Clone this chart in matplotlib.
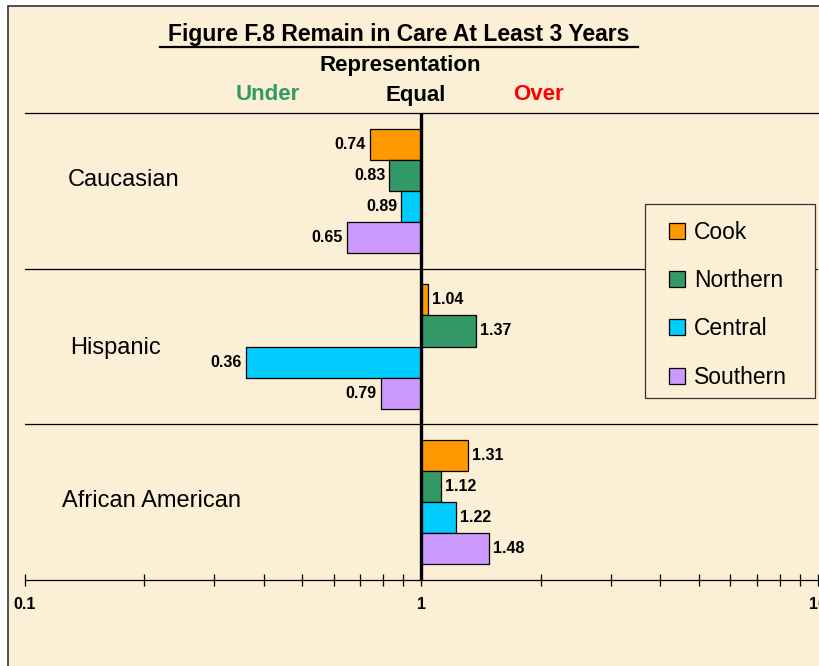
import matplotlib
matplotlib.use("Agg")
import matplotlib.pyplot as plt
from matplotlib import patches
from matplotlib.ticker import LogLocator, FixedFormatter, FixedLocator, NullFormatter

plt.rcParams['font.family'] = ['Liberation Sans', 'DejaVu Sans']

# data
groups = ['Caucasian', 'Hispanic', 'African American']
regions = ['Cook', 'Northern', 'Central', 'Southern']
cook = [0.74, 1.04, 1.31]
northern = [0.83, 1.37, 1.12]
central = [0.89, 0.36, 1.22]
southern = [0.65, 0.79, 1.48]
tick_values = [0.1, 1, 10]
tick_labels = ['0.1', '1', '10']

COLORS = ['#FF9900', '#339966', '#00CCFF', '#CC99FF']
BG = '#FBEFD6'

W, H = 820, 666
fig = plt.figure(figsize=(W / 100, H / 100), dpi=100, facecolor='white')

# chart frame
fig.patches.append(
    patches.Rectangle((8 / W, -0.1), 1.2, 1 - 6 / H + 0.1, transform=fig.transFigure,
                      facecolor=BG, edgecolor='#333333', lw=1.2, zorder=-5)
)

ax = fig.add_axes([25 / W, 1 - 580 / H, (818 - 25) / W, (580 - 113) / H])
ax.set_zorder(2)
ax.set_facecolor('none')
ax.set_xscale('log')
ax.set_xlim(0.1, 10)
ax.set_ylim(3, 0)

series = [cook, northern, central, southern]
bar_h = 0.2
for k, (name, vals) in enumerate(zip(regions, series)):
    ys = [g + 0.2 + k * bar_h for g in range(len(groups))]
    ax.barh(ys, [v - 1 for v in vals], left=1, height=bar_h, color=COLORS[k],
            edgecolor='black', lw=0.9, label=name, zorder=3)
    for y, v in zip(ys, vals):
        if v < 1:
            ax.annotate(f"{v:.2f}", (v, y), xytext=(-3, 0), textcoords='offset points',
                        ha='right', va='center', fontsize=11.5, fontweight='bold')
        else:
            ax.annotate(f"{v:.2f}", (v, y), xytext=(3, 0), textcoords='offset points',
                        ha='left', va='center', fontsize=11.5, fontweight='bold')

# equal line at 1
ax.axvline(1, color='black', lw=2.4, zorder=4)
# group separators
for g in range(1, len(groups)):
    ax.axhline(g, color='black', lw=0.9, zorder=1)

label_pos = [(68, 0.43), (70, 1.51), (62, 2.49)]
for name, (px, y) in zip(groups, label_pos):
    ax.text((px - 25) / (818 - 25), y, name, transform=ax.get_yaxis_transform(),
            ha='left', va='center', fontsize=17)

for side in ['left', 'right']:
    ax.spines[side].set_visible(False)
ax.spines['top'].set_linewidth(0.9)
ax.spines['bottom'].set_linewidth(0.9)
ax.set_yticks([])
ax.xaxis.set_major_locator(FixedLocator(tick_values))
ax.xaxis.set_major_formatter(FixedFormatter(tick_labels))
ax.xaxis.set_minor_locator(LogLocator(base=10, subs=range(2, 10)))
ax.xaxis.set_minor_formatter(NullFormatter())
ax.tick_params(axis='x', which='both', direction='inout', length=9, width=0.9, pad=8)
ax.tick_params(axis='x', which='major', labelsize=11.5)
for t in ax.get_xticklabels():
    t.set_fontweight('bold')

# legend: box drawn by hand so its size matches, entries placed inside it
box = patches.Rectangle((645 / W, 1 - 398 / H), 170 / W, 194 / H, transform=fig.transFigure,
                        facecolor=BG, edgecolor='#333333', lw=0.9, zorder=5, clip_on=False)
ax.add_artist(box)
handles = [patches.Patch(facecolor=c, edgecolor='black', lw=0.9) for c in COLORS]
leg = ax.legend(handles, regions, loc='upper left', bbox_to_anchor=(669 / W, 1 - 221 / H),
                bbox_transform=fig.transFigure, fontsize=16.5, frameon=False,
                handlelength=0.7, handleheight=0.7, handletextpad=0.4, labelspacing=1.1,
                borderpad=0, borderaxespad=0)
leg.set_zorder(6)

# titles
fig.text(399 / W, 1 - 35 / H, 'Figure F.8 Remain in Care At Least 3 Years', ha='center',
         va='center', fontsize=16.5, fontweight='bold')
fig.add_artist(plt.Line2D([160 / W, 638 / W], [1 - 47 / H, 1 - 47 / H], color='black', lw=1.6))
fig.text(400 / W, 1 - 66 / H, 'Representation', ha='center', va='center', fontsize=16,
         fontweight='bold')
fig.text(268 / W, 1 - 95 / H, 'Under', ha='center', va='center', fontsize=16,
         fontweight='bold', color='#339966')
fig.text(416 / W, 1 - 95 / H, 'Equal', ha='center', va='center', fontsize=16,
         fontweight='bold', color='black')
fig.text(538 / W, 1 - 95 / H, 'Over', ha='center', va='center', fontsize=16,
         fontweight='bold', color='#FF0000')

fig.savefig('out.png', dpi=100, facecolor='white')
